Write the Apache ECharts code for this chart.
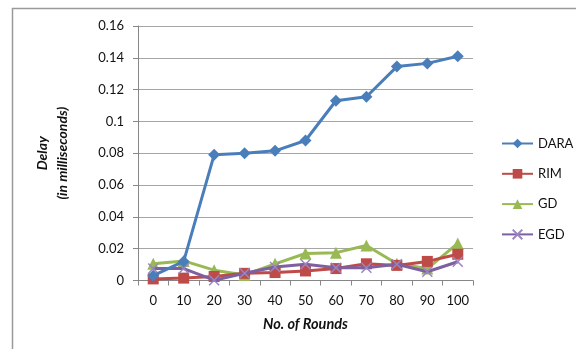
<!DOCTYPE html>
<html>
<head>
<meta charset="utf-8">
<script src="https://cdn.jsdelivr.net/npm/echarts@6/dist/echarts.min.js"></script>
<style>
  html, body { margin: 0; padding: 0; background: #fff; }
  #chart { width: 576px; height: 349px; }
</style>
</head>
<body>
<div id="chart"></div>
<script>
// Rounds on the horizontal axis
const rounds = ['0', '10', '20', '30', '40', '50', '60', '70', '80', '90', '100'];

// Delay per protocol, in milliseconds
const dara = [0.003, 0.012, 0.079, 0.080, 0.0815, 0.088, 0.113, 0.1155, 0.1345, 0.1365, 0.141];
const rim  = [0.001, 0.0015, 0.0025, 0.0045, 0.005, 0.006, 0.0075, 0.0105, 0.0095, 0.012, 0.0165];
const gd   = [0.0105, 0.0123, 0.0065, 0.0035, 0.0105, 0.017, 0.0175, 0.022, 0.0105, 0.0075, 0.0233];
const egd  = [0.0075, 0.0075, 0.0002, 0.0045, 0.0085, 0.0102, 0.008, 0.008, 0.0102, 0.0055, 0.0118];

const yTicks = { min: 0, max: 0.16, step: 0.02 };

const FONT = 'Lato, "Open Sans", sans-serif';
const crossPath = 'path://M0,0 L10,10 M10,0 L0,10';

function lineSeries(name, data, color, symbol, size, extra) {
  return Object.assign({
    name: name,
    type: 'line',
    data: data,
    symbol: symbol,
    symbolSize: size,
    showAllSymbol: true,
    lineStyle: { color: color, width: 3 },
    itemStyle: { color: color },
    emphasis: { disabled: true },
    animation: false
  }, extra || {});
}

const chart = echarts.init(document.getElementById('chart'), null, { renderer: 'canvas' });

chart.setOption({
  backgroundColor: '#fff',
  textStyle: { fontFamily: FONT },
  grid: { left: 138, right: 103, top: 26, bottom: 68.5, containLabel: false },
  legend: {
    orient: 'vertical',
    left: 496,
    top: 132,
    itemWidth: 31,
    itemHeight: 12,
    itemGap: 17.3,
    textStyle: { fontFamily: FONT, fontSize: 13, color: '#111' },
    data: ['DARA', 'RIM', 'GD', 'EGD']
  },
  xAxis: {
    type: 'category',
    data: rounds,
    boundaryGap: true,
    axisLine: { lineStyle: { color: '#868686', width: 1 } },
    axisTick: { show: true, interval: 0, length: 5, lineStyle: { color: '#868686' } },
    axisLabel: { fontFamily: FONT, fontSize: 13, color: '#111', margin: 14, interval: 0 },
    name: 'No. of Rounds',
    nameLocation: 'middle',
    nameGap: 36,
    nameTextStyle: { fontFamily: FONT, fontSize: 14.5, fontWeight: 'bold', fontStyle: 'italic', color: '#111' }
  },
  yAxis: {
    type: 'value',
    min: yTicks.min,
    max: yTicks.max,
    interval: yTicks.step,
    axisLine: { show: true, lineStyle: { color: '#868686', width: 1 } },
    axisTick: { show: true, length: 5, lineStyle: { color: '#868686' } },
    splitLine: { lineStyle: { color: '#a6a6a6', width: 1 } },
    axisLabel: {
      fontFamily: FONT, fontSize: 13, color: '#111', margin: 14,
      formatter: v => String(Math.round(v * 100) / 100)
    },
    name: 'Delay\n(in milliseconds)',
    nameLocation: 'middle',
    nameGap: 66,
    nameTextStyle: {
      fontFamily: FONT, fontSize: 14, fontWeight: 'bold', fontStyle: 'italic',
      color: '#111', lineHeight: 20, align: 'center'
    }
  },
  graphic: [{
    type: 'polyline',
    shape: { points: [[12.5, 360], [12.5, 8.5], [580, 8.5]] },
    style: { stroke: '#9a9a9a', lineWidth: 1.5, fill: null },
    silent: true
  }],
  series: [
    lineSeries('DARA', dara, '#4a7ebb', 'diamond', 12, { z: 5 }),
    lineSeries('RIM', rim, '#be4b48', 'rect', 11, { z: 3 }),
    lineSeries('GD', gd, '#98b954', 'triangle', 12, { z: 2 }),
    lineSeries('EGD', egd, '#7d60a0', crossPath, 10, {
      z: 4,
      itemStyle: { color: '#7d60a0', borderColor: '#9a85c0', borderWidth: 1.5 }
    })
  ]
});
</script>
</body>
</html>
